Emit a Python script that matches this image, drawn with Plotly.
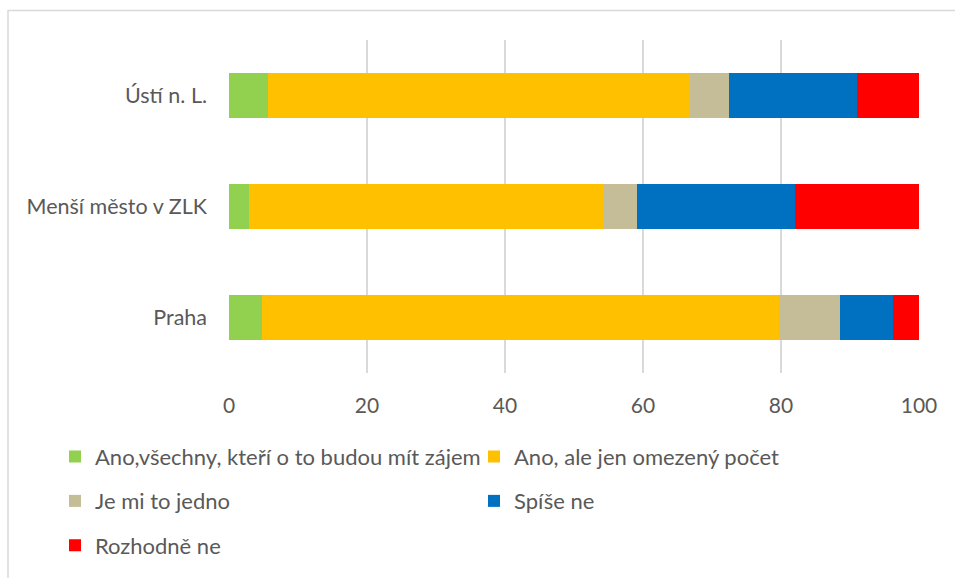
import plotly.graph_objects as go

categories = ["Praha", "Menší město v ZLK", "Ústí n. L."]
series_names = [
    "Ano,všechny, kteří o to budou mít zájem",
    "Ano, ale jen omezený počet",
    "Je mi to jedno",
    "Spíše ne",
    "Rozhodně ne",
]
ano_vsechny = [4.8, 2.9, 5.7]
ano_omezeny = [74.9, 51.4, 61.1]
jedno = [8.8, 4.8, 5.7]
spise_ne = [7.8, 22.9, 18.5]
rozhodne_ne = [3.7, 18.0, 9.0]
colors = ["#92D050", "#FFC000", "#C4BD97", "#0070C0", "#FF0000"]
legend_ids = ["legend", "legend", "legend2", "legend2", "legend3"]
tick_vals = [0, 20, 40, 60, 80, 100]

values = [ano_vsechny, ano_omezeny, jedno, spise_ne, rozhodne_ne]

FONT = "Lato"
TXT = "#595959"

fig = go.Figure()
for name, vals, col, lg in zip(series_names, values, colors, legend_ids):
    fig.add_trace(go.Bar(
        y=categories, x=vals, name=name, orientation="h",
        marker=dict(color=col, line=dict(width=0)),
        width=0.4, legend=lg,
    ))

L, R, T, B = 229, 36, 40, 200
W, H = 955, 578
pw, ph = W - L - R, H - T - B

def px_x(p):
    return (p - L) / pw

def px_y(p):
    return 1 - (p - T) / ph

leg_common = dict(orientation="h", entrywidth=374, entrywidthmode="pixels",
                  xanchor="left", yanchor="middle", bgcolor="rgba(0,0,0,0)",
                  font=dict(family=FONT, size=22, color=TXT), traceorder="normal")

fig.update_layout(
    width=W, height=H,
    margin=dict(l=L, r=R, t=T, b=B),
    paper_bgcolor="white", plot_bgcolor="white",
    barmode="stack",
    font=dict(family=FONT, size=21, color=TXT),
    xaxis=dict(range=[0, 100], tickvals=tick_vals, showgrid=True,
               gridcolor="#D9D9D9", gridwidth=2, zeroline=False,
               showline=False, ticks="", ticklabelstandoff=18,
               tickfont=dict(family=FONT, size=21, color=TXT), fixedrange=True),
    yaxis=dict(range=[-0.5, 2.5], showgrid=False, zeroline=False,
               showline=False, ticks="", ticklabelstandoff=21,
               tickfont=dict(family=FONT, size=21.5, color=TXT), fixedrange=True),
    legend=dict(x=px_x(55), y=px_y(463), **leg_common),
    legend2=dict(x=px_x(55), y=px_y(508), **leg_common),
    legend3=dict(x=px_x(55), y=px_y(553), **leg_common),
    showlegend=True,
    shapes=[dict(type="rect", xref="paper", yref="paper",
                 x0=px_x(8), x1=px_x(970), y0=px_y(600), y1=px_y(10),
                 line=dict(color="#D9D9D9", width=1.5), fillcolor="rgba(0,0,0,0)",
                 layer="below")],
)
fig.write_html("out.html", config={"displayModeBar": False},
               post_script="document.body.style.margin='0';document.body.style.padding='0';")
